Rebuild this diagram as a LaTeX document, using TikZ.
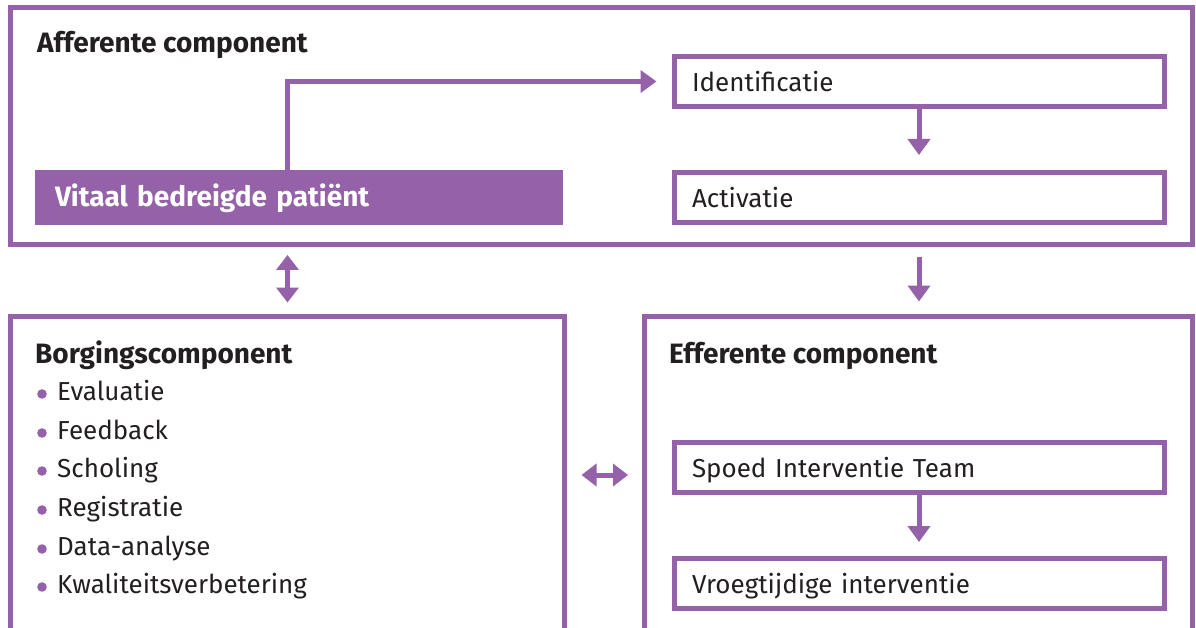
\documentclass[tikz,border=0pt]{standalone}
\usepackage{fontspec}
\setmainfont{Fira Sans}
\usepackage{xcolor}
\usetikzlibrary{positioning,arrows.meta}

\definecolor{paars}{RGB}{149,97,168}
\definecolor{tekst}{RGB}{35,31,32}

\begin{document}
\begin{tikzpicture}[x=1pt,y=-1pt,node distance=116pt,on grid,
    frame/.style={draw=paars,line width=5pt,inner sep=0pt},
    stap/.style={draw=paars,line width=5pt,minimum height=50pt,inner xsep=18pt,inner ysep=0pt,
      text width=454pt,align=left,text height=20pt,text depth=0pt,
      font=\fontsize{26}{30}\selectfont,text=tekst},
    kop/.style={anchor=base west,inner sep=0pt,font=\fontsize{28}{32}\selectfont\bfseries,text=tekst},
    item/.style={anchor=base west,inner sep=0pt,font=\fontsize{26}{30}\selectfont,text=tekst},
    pijl/.style={draw=paars,line width=5pt,-{Triangle[width=22pt,length=16pt]}},
    dubbel/.style={draw=paars,line width=5pt,{Triangle[width=22pt,length=15pt]}-{Triangle[width=22pt,length=15pt]}}]
    \clip (0,0) rectangle (1196,628);
    % frames
    \node[frame,minimum width=1182.5pt,minimum height=237pt] (afferent) at (601.25,126)   {};
    \node[frame,minimum width=554pt,minimum height=314pt]    (borging)  at (287,473)      {};
    \node[frame,minimum width=548pt,minimum height=314pt]    (efferent) at (918.5,473)    {};
    % afferente component
    \node[kop] (afftitel) at (37,53) {Afferente component};
    \node[fill=paars,minimum width=528pt,minimum height=55pt,inner xsep=20pt,inner ysep=0pt,
      text width=488pt,align=left,text height=19pt,text depth=0pt,
      font=\fontsize{28}{32}\selectfont\bfseries,text=white] (vitaal) at (299,197.5) {Vitaal bedreigde patiënt};
    \node[stap] (identificatie) at (919,81.5)          {Identificatie};
    \node[stap] (activatie)     [below=of identificatie] {Activatie};
    \coordinate (knik) at (287.5,81.5);
    % borgingscomponent
    \node[kop]  (borgtitel)   at (35,363)  {Borgingscomponent};
    \node[item] (evaluatie)   at (57,400)  {Evaluatie};
    \node[item] (feedback)    at (57,439)  {Feedback};
    \node[item] (scholing)    at (57,477)  {Scholing};
    \node[item] (registratie) at (57,516)  {Registratie};
    \node[item] (analyse)     at (57,555)  {Data-analyse};
    \node[item] (kwaliteit)   at (57,593)  {Kwaliteitsverbetering};
    \foreach \n in {evaluatie,feedback,scholing,registratie,analyse,kwaliteit}
      \fill[paars] ([xshift=-15pt,yshift=6pt]\n.base west) circle (4.8pt);
    % efferente component
    \node[kop]  (efftitel)  at (669,363)  {Efferente component};
    \node[stap] (spoed)     at (919,467.5)  {Spoed Interventie Team};
    \node[stap] (vroeg)     [below=of spoed] {Vroegtijdige interventie};
    \coordinate (midden) at (605,475);
    % connectors
    \draw[pijl,shorten >=15pt] (vitaal.north -| knik) -- (knik) -- (identificatie.west);
    \draw[pijl,shorten >=15pt] (identificatie) -- (activatie);
    \draw[pijl,shorten <=10pt,shorten >=12pt] (afferent.south -| activatie) -- (efferent.north -| activatie);
    \draw[dubbel,shorten <=8pt,shorten >=11pt] (afferent.south -| knik) -- (borging.north -| knik);
    \draw[dubbel,shorten <=15pt,shorten >=14pt] (borging.east |- midden) -- (efferent.west |- midden);
    \draw[pijl,shorten >=14pt] (spoed) -- (vroeg);
\end{tikzpicture}
\end{document}
